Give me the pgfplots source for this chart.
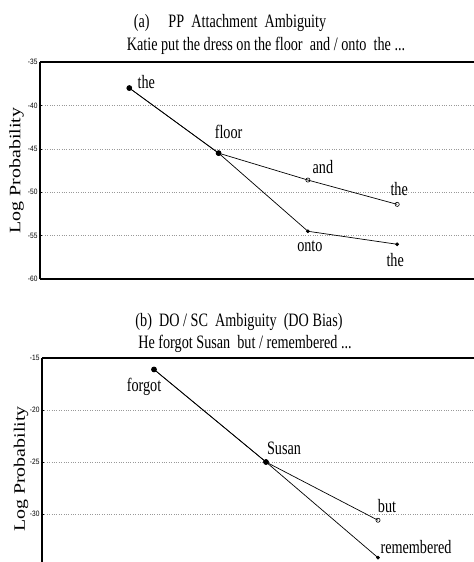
\documentclass[border=0pt]{standalone}
\usepackage{fontspec}
\setmainfont{Liberation Serif}
\newfontfamily\cond[FakeStretch=0.75]{Liberation Serif}
\newfontfamily\wide[FakeStretch=1.25]{Liberation Serif}
\newfontfamily\ticksf[FakeStretch=0.85]{Liberation Sans}
\usepackage{pgfplots}
\pgfplotsset{compat=1.18}
\newcommand\lab{\cond\fontsize{19}{20}\selectfont}
\newcommand\ttl{\cond\fontsize{19}{20}\selectfont}
\pgfplotsset{
  myaxis/.style={
    scale only axis, anchor=north west, xmin=0,
    separate axis lines,
    x axis line style={line width=1.2pt},
    y axis line style={line width=1.8pt},
    xtick=\empty,
    ymajorgrids, grid style={dotted, gray!80, line width=0.6pt},
    minor y tick num=4,
    major tick length=2.5pt, minor tick length=1.5pt,
    ytick style={black, line width=0.5pt},
    yticklabel style={font=\ticksf\fontsize{7.8}{8}\selectfont, xshift=1pt},
    ylabel style={font=\wide\fontsize{16}{17}\selectfont, anchor=center},
    clip=false,
    every axis plot/.append style={black, line width=0.7pt},
  }
}
\begin{document}
\begin{tikzpicture}
\useasboundingbox (0,0) rectangle (474bp,-562bp);
\clip (0,0) rectangle (474bp,-562bp);
% ---- (a)
\begin{axis}[myaxis, at={(40bp,-62bp)}, width=446.5bp, height=217bp,
  xmax=5, ymin=-60, ymax=-35,
  ytick={-60,-55,-50,-45,-40,-35},
  yticklabels={-60,-55,-50,-45,-40,-35},
  ylabel={Log Probability}, ylabel style={at={(axis description cs:-0.0526,0.5)}}]
\addplot[mark=o, mark size=2.1pt, mark options={solid, line width=0.6pt}] coordinates {(1,-38) (2,-45.5) (3,-48.6) (4,-51.4)};
\addplot[mark=*, mark size=1.5pt] coordinates {(1,-38) (2,-45.5) (3,-54.5) (4,-56)};
\addplot[only marks, mark=*, mark size=2.5pt] coordinates {(1,-38) (2,-45.5)};
\node[font=\lab] at (axis cs:1,-38) [xshift=17bp, yshift=6bp] {the};
\node[font=\lab] at (axis cs:2,-45.5) [xshift=10bp, yshift=21bp] {floor};
\node[font=\lab] at (axis cs:3,-48.6) [xshift=15bp, yshift=13bp] {and};
\node[font=\lab] at (axis cs:4,-51.4) [xshift=2bp, yshift=15bp] {the};
\node[font=\lab] at (axis cs:3,-54.5) [xshift=2bp, yshift=-15bp] {onto};
\node[font=\lab] at (axis cs:4,-56) [xshift=-2bp, yshift=-16bp] {the};
\end{axis}
% ---- (b)
\begin{axis}[myaxis, at={(42bp,-358bp)}, width=448bp, height=260bp,
  xmax=4, ymin=-40, ymax=-15,
  ytick={-30,-25,-20,-15},
  yticklabels={-30,-25,-20,-15},
  ylabel={Log Probability}, ylabel style={at={(axis description cs:-0.047,0.573)}}]
\addplot[mark=o, mark size=2.1pt, mark options={solid, line width=0.6pt}] coordinates {(1,-16.1) (2,-25) (3,-30.6)};
\addplot[mark=*, mark size=1.5pt] coordinates {(1,-16.1) (2,-25) (3,-34.2)};
\addplot[only marks, mark=*, mark size=2.5pt] coordinates {(1,-16.1) (2,-25)};
\node[font=\lab] at (axis cs:1,-16.1) [xshift=-10bp, yshift=-17bp] {forgot};
\node[font=\lab] at (axis cs:2,-25) [xshift=18bp, yshift=14bp] {Susan};
\node[font=\lab] at (axis cs:3,-30.6) [xshift=9bp, yshift=14bp] {but};
\node[font=\lab] at (axis cs:3,-34.2) [xshift=38bp, yshift=11bp] {remembered};
\end{axis}
% ---- titles
\node[font=\ttl, anchor=base] at (230bp,-27bp) {(a)\quad PP\ \ Attachment\ \ Ambiguity};
\node[font=\ttl, anchor=base] at (266bp,-50bp) {Katie put the dress on the floor\ \ and / onto\ \ the ...};
\node[font=\ttl, anchor=base] at (239bp,-326bp) {(b)\ \ DO / SC\ \ Ambiguity\ \ (DO Bias)};
\node[font=\ttl, anchor=base] at (245bp,-348bp) {He forgot Susan\ \ but / remembered ...};
\end{tikzpicture}
\end{document}
